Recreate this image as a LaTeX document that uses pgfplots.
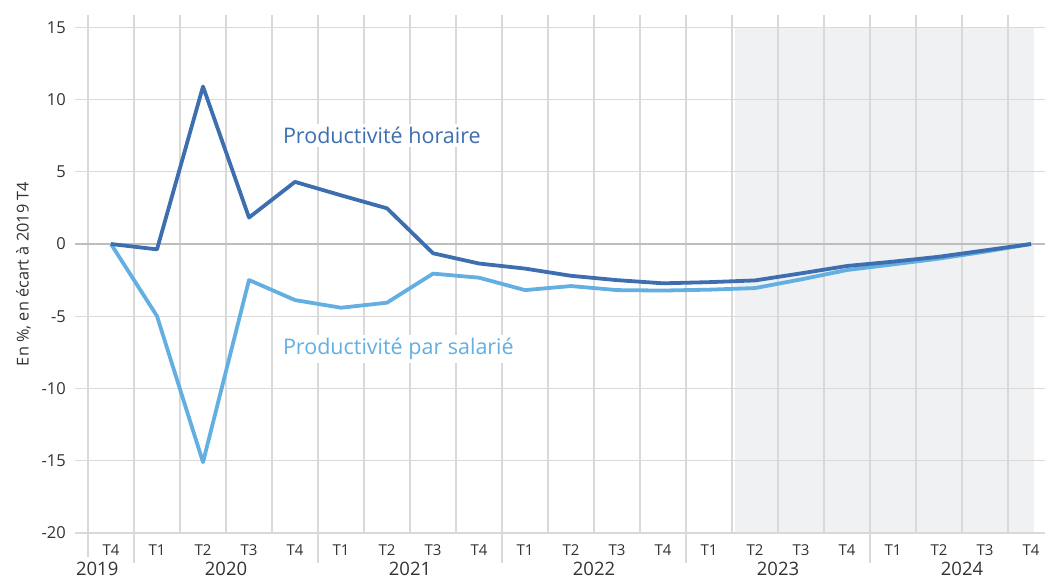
\documentclass[border=0pt]{standalone}
\usepackage{fontspec}
\setmainfont{Open Sans}
\usepackage{pgfplots}
\pgfplotsset{compat=1.18}
\definecolor{dblue}{HTML}{3D6FB0}
\definecolor{lblue}{HTML}{63AFE2}
\definecolor{gridc}{HTML}{D9D9D9}
\definecolor{zeroc}{HTML}{BDBDBD}
\definecolor{shadec}{HTML}{F0F1F3}
\definecolor{txt}{HTML}{333333}
\begin{document}
\begin{tikzpicture}
\begin{axis}[
  set layers=standard,
  scale only axis, width=970pt, height=518pt,
  xmin=-0.7826, xmax=20.304, ymin=-20, ymax=15.85,
  clip=false,
  axis line style={draw=none},
  major tick length=0pt, minor tick length=0pt,
  /pgf/number format/assume math mode=true,
  xtick={0,...,20},
  xticklabels={T4,T1,T2,T3,T4,T1,T2,T3,T4,T1,T2,T3,T4,T1,T2,T3,T4,T1,T2,T3,T4},
  minor xtick={-0.5,0.5,...,19.5},
  xminorgrids, xmajorgrids=false,
  minor grid style={gridc, line width=1.2pt},
  ytick={-20,-15,...,15},
  ymajorgrids,
  major grid style={gridc, line width=1.2pt},
  xticklabel style={anchor=base, yshift=-22pt, inner sep=0pt, font=\fontsize{15}{15}\selectfont, text=txt},
  yticklabel style={anchor=east, inner sep=0pt, xshift=-9pt, font=\fontsize{16.5}{16.5}\selectfont, text=txt},
]
\begin{pgfonlayer}{axis background}
\fill[shadec] (axis cs:13.56,-20) rectangle (axis cs:20.07,15);
\end{pgfonlayer}
\draw[zeroc, line width=2pt] (axis cs:-0.7826,0) -- (axis cs:20.304,0);
\draw[gridc, line width=1.2pt] (axis cs:0.5,-20) -- ([yshift=-30pt]axis cs:0.5,-20);
\draw[gridc, line width=1.2pt] (axis cs:4.5,-20) -- ([yshift=-30pt]axis cs:4.5,-20);
\draw[gridc, line width=1.2pt] (axis cs:8.5,-20) -- ([yshift=-30pt]axis cs:8.5,-20);
\draw[gridc, line width=1.2pt] (axis cs:12.5,-20) -- ([yshift=-30pt]axis cs:12.5,-20);
\draw[gridc, line width=1.2pt] (axis cs:16.5,-20) -- ([yshift=-30pt]axis cs:16.5,-20);
\draw[gridc, line width=1.2pt] (axis cs:-0.5,-20) -- ([yshift=-24pt]axis cs:-0.5,-20);

\addplot[lblue, line width=3.8pt, line join=round] coordinates {
(0,0) (1,-4.99) (2,-15.1) (3,-2.49) (4,-3.88) (5,-4.41) (6,-4.06) (7,-2.05)
(8,-2.33) (9,-3.19) (10,-2.91) (11,-3.19) (12,-3.22) (13,-3.16) (14,-3.05)
(15,-2.45) (16,-1.8) (17,-1.41) (18,-1.01) (19,-0.53) (20,0)};
\addplot[dblue, line width=3.8pt, line join=round] coordinates {
(0,0) (1,-0.37) (2,10.9) (3,1.83) (4,4.3) (5,3.37) (6,2.47) (7,-0.64)
(8,-1.35) (9,-1.7) (10,-2.2) (11,-2.5) (12,-2.72) (13,-2.64) (14,-2.52)
(15,-2.03) (16,-1.52) (17,-1.22) (18,-0.88) (19,-0.44) (20,0)};

\node[dblue, fill=white, inner sep=3pt, anchor=base west, font=\fontsize{21.5}{21.5}\selectfont] at (axis cs:3.67,6.94) {Productivité horaire};
\node[lblue, fill=white, inner sep=3pt, anchor=base west, font=\fontsize{21.5}{21.5}\selectfont] at (axis cs:3.67,-7.64) {Productivité par salarié};

\node[anchor=base, inner sep=0pt, text=txt, font=\fontsize{18.5}{18.5}\selectfont, yshift=-42.5pt] at (axis cs:-0.3,-20) {2019};
\node[anchor=base, inner sep=0pt, text=txt, font=\fontsize{18.5}{18.5}\selectfont, yshift=-42.5pt] at (axis cs:2.5,-20) {2020};
\node[anchor=base, inner sep=0pt, text=txt, font=\fontsize{18.5}{18.5}\selectfont, yshift=-42.5pt] at (axis cs:6.5,-20) {2021};
\node[anchor=base, inner sep=0pt, text=txt, font=\fontsize{18.5}{18.5}\selectfont, yshift=-42.5pt] at (axis cs:10.5,-20) {2022};
\node[anchor=base, inner sep=0pt, text=txt, font=\fontsize{18.5}{18.5}\selectfont, yshift=-42.5pt] at (axis cs:14.5,-20) {2023};
\node[anchor=base, inner sep=0pt, text=txt, font=\fontsize{18.5}{18.5}\selectfont, yshift=-42.5pt] at (axis cs:18.5,-20) {2024};
\node[rotate=90, text=txt, font=\fontsize{16.3}{16.3}\selectfont] at (axis description cs:-0.0531,0.5) {En \%, en écart à 2019 T4};
\end{axis}
\pgfresetboundingbox
\path[use as bounding box] ([xshift=-75pt,yshift=-45.7pt]current axis.south west) rectangle ([yshift=15pt]current axis.north east);
\end{tikzpicture}
\end{document}
